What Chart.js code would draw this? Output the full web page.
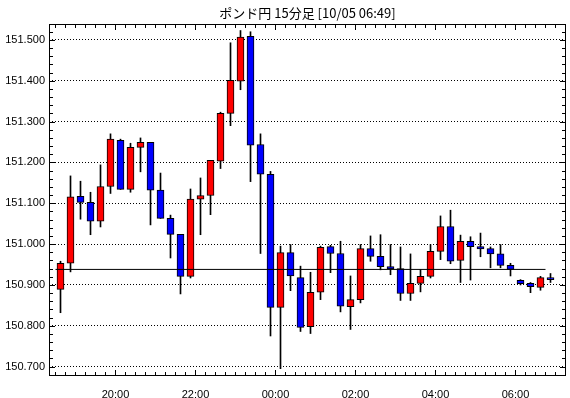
<!DOCTYPE html>
<html>
<head>
<meta charset="utf-8">
<script src="https://cdn.jsdelivr.net/npm/chart.js@4.4.0/dist/chart.umd.min.js"></script>
<style>
html, body { margin: 0; padding: 0; background: #fff; }
</style>
</head>
<body>
<canvas id="myChart" width="570" height="398"></canvas>
<script>
'use strict'

// 15 min candles, 18:30 -> 06:45
const opens  = [150.889, 150.953, 151.117, 151.102, 151.056, 151.141, 151.254, 151.134, 151.237, 151.249,
                151.132, 151.063, 151.024, 150.921, 151.110, 151.119, 151.203, 151.320, 151.399, 151.509,
                151.244, 151.171, 150.845, 150.979, 150.918, 150.798, 150.882, 150.994, 150.977, 150.847,
                150.864, 150.989, 150.970, 150.945, 150.940, 150.879, 150.904, 150.921, 150.982, 151.043,
                150.960, 151.007, 150.994, 150.989, 150.976, 150.948, 150.911, 150.904, 150.894, 150.918]
const highs  = [150.958, 151.167, 151.154, 151.127, 151.194, 151.270, 151.257, 151.247, 151.260, 151.249,
                151.174, 151.071, 151.024, 151.135, 151.162, 151.205, 151.323, 151.493, 151.523, 151.520,
                151.270, 151.178, 150.995, 150.999, 150.946, 150.931, 150.995, 150.997, 151.007, 150.922,
                150.999, 151.020, 151.023, 150.999, 150.993, 150.976, 150.938, 150.999, 151.069, 151.083,
                151.022, 151.018, 151.027, 150.993, 150.999, 150.953, 150.913, 150.906, 150.921, 150.928]
const lows   = [150.832, 150.932, 151.061, 151.023, 151.042, 151.124, 151.134, 151.127, 151.177, 151.047,
                151.063, 150.966, 150.878, 150.917, 151.023, 151.072, 151.185, 151.290, 151.378, 151.153,
                150.977, 150.775, 150.695, 150.886, 150.786, 150.781, 150.864, 150.930, 150.834, 150.791,
                150.856, 150.958, 150.937, 150.925, 150.862, 150.862, 150.883, 150.917, 150.962, 150.952,
                150.906, 150.912, 150.969, 150.942, 150.942, 150.922, 150.900, 150.881, 150.887, 150.906]
const closes = [150.953, 151.116, 151.102, 151.056, 151.141, 151.257, 151.134, 151.237, 151.249, 151.132,
                151.063, 151.024, 150.921, 151.110, 151.119, 151.205, 151.320, 151.401, 151.507, 151.242,
                151.171, 150.845, 150.979, 150.922, 150.796, 150.882, 150.992, 150.977, 150.848, 150.864,
                150.989, 150.970, 150.945, 150.939, 150.879, 150.904, 150.921, 150.982, 151.043, 150.958,
                151.007, 150.994, 150.988, 150.976, 150.948, 150.938, 150.903, 150.896, 150.918, 150.913]

const yTicks = [150.7, 150.8, 150.9, 151.0, 151.1, 151.2, 151.3, 151.4, 151.5]
const hourPos = [5.5, 13.5, 21.5, 29.5, 37.5, 45.5]
const hourLabels = ['20:00', '22:00', '00:00', '02:00', '04:00', '06:00']
const refLevel = 150.938
const refSpan = [-0.5, 48.5]

const UP = '#ff0000'
const DOWN = '#0000ff'

const bodies = opens.map((o, i) => ({ x: i, y: [o, closes[i]] }))
const wicks = lows.map((l, i) => ({ x: i, y: [l, highs[i]] }))
const bodyColors = opens.map((o, i) => closes[i] >= o ? UP : DOWN)

// frame + inward ticks like the original chart
const framePlugin = {
	id: 'frame',
	afterDraw(chart) {
		const { ctx, chartArea: a, scales: { x, y } } = chart
		ctx.save()
		ctx.strokeStyle = '#000'
		ctx.lineWidth = 1
		ctx.strokeRect(a.left + 0.5, a.top + 0.5, a.right - a.left - 1, a.bottom - a.top - 1)
		ctx.beginPath()
		for (let k = 0; k <= 43; k++) {
			const v = 150.68 + k * 0.02
			const py = Math.round(y.getPixelForValue(v)) + 0.5
			if (py <= a.top + 1 || py >= a.bottom - 1) continue
			const len = (Math.round(v * 100) % 10 === 0) ? 5 : 3
			ctx.moveTo(a.left, py); ctx.lineTo(a.left + 1 + len, py)
			ctx.moveTo(a.right, py); ctx.lineTo(a.right - 1 - len, py)
		}
		for (let k = 0; k <= opens.length; k++) {
			const v = k - 0.5
			const px = Math.round(x.getPixelForValue(v) - 0.5) + 0.5
			if (px <= a.left + 1 || px >= a.right - 1) continue
			const len = hourPos.includes(v) ? 5 : 3
			ctx.moveTo(px, a.bottom); ctx.lineTo(px, a.bottom - 1 - len)
			ctx.moveTo(px, a.top); ctx.lineTo(px, a.top + 1 + len)
		}
		ctx.stroke()
		ctx.restore()
	}
}

const axisFont = { family: "'Liberation Sans', Arial, sans-serif", size: 11 }

new Chart(document.getElementById('myChart'), {
	type: 'bar',
	data: {
		datasets: [
			{
				type: 'line',
				data: refSpan.map(v => ({ x: v, y: refLevel })),
				borderColor: '#000',
				borderWidth: 1,
				pointRadius: 0,
				order: 0
			},
			{
				data: bodies,
				backgroundColor: bodyColors,
				borderColor: '#000',
				borderWidth: 1,
				borderSkipped: false,
				barThickness: 7,
				grouped: false,
				order: 1
			},
			{
				data: wicks,
				backgroundColor: '#000',
				borderWidth: 0,
				barThickness: 1,
				grouped: false,
				order: 2
			}
		]
	},
	options: {
		responsive: false,
		animation: false,
		devicePixelRatio: 1,
		layout: { padding: { left: 0, right: 4, top: 0, bottom: 0 } },
		plugins: {
			legend: { display: false },
			tooltip: { enabled: false },
			title: {
				display: true,
				text: 'ポンド円 15分足 [10/05 06:49]',
				fullSize: false,
				color: '#000',
				font: { family: "'Noto Sans CJK JP', sans-serif", size: 13, weight: 'normal', lineHeight: '18px' },
				padding: { top: 4, bottom: 2 }
			}
		},
		scales: {
			x: {
				type: 'linear',
				offset: false,
				min: -1.15,
				max: 50.55,
				afterFit(scale) { scale.height = 22 },
				afterBuildTicks(scale) { scale.ticks = hourPos.map(v => ({ value: v })) },
				grid: { display: false },
				border: { display: false },
				ticks: {
					autoSkip: false,
					maxRotation: 0,
					padding: 4,
					color: '#000',
					font: axisFont,
					callback: (v, i) => hourLabels[i]
				}
			},
			y: {
				min: 150.677,
				max: 151.539,
				afterFit(scale) { scale.width = 49 },
				afterBuildTicks(scale) { scale.ticks = yTicks.map(v => ({ value: v })) },
				grid: { color: '#000', lineWidth: 1, drawTicks: false },
				border: { display: false, dash: [1, 2] },
				ticks: {
					padding: 4,
					color: '#000',
					font: axisFont,
					callback: v => v.toFixed(3)
				}
			}
		}
	},
	plugins: [framePlugin]
})
</script>
</body>
</html>
